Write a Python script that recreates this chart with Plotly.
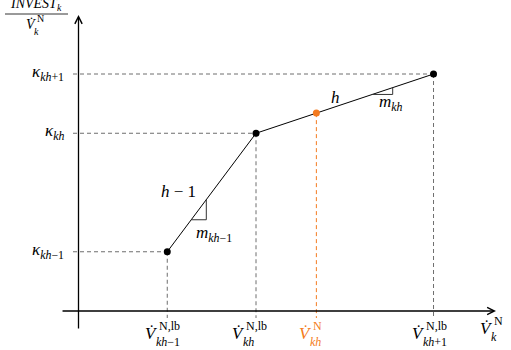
import plotly.graph_objects as go

# ---- data ----
V_lb = [1.0, 2.0, 4.0]            # V_{kh-1}^{N,lb}, V_{kh}^{N,lb}, V_{kh+1}^{N,lb}
kappa = [1.0, 3.0, 4.0]           # kappa_{kh-1}, kappa_{kh}, kappa_{kh+1}
V_N = 2.68                        # operating point V_kh^N
kappa_N = 3.34
kappa_labels = ["<i>κ</i><sub><i>kh</i>−1</sub>", "<i>κ</i><sub><i>kh</i></sub>", "<i>κ</i><sub><i>kh</i>+1</sub>"]
V_sub_labels = ["<i>kh</i>−1", "<i>kh</i>", "<i>kh</i>+1"]
V_sup_label = "N,lb"

FONT = "'Liberation Serif', 'DejaVu Serif', serif"
GRAY = "#6e6e6e"
ORANGE = "#f47b20"

fig = go.Figure()

# dashed guide lines
hx, hy, vx, vy = [], [], [], []
for v, k in zip(V_lb, kappa):
    hx += [-0.062, v, None]
    hy += [k, k, None]
    vx += [v, v, None]
    vy += [k, -0.118, None]
fig.add_trace(go.Scatter(x=hx + vx, y=hy + vy, mode="lines",
                         line=dict(color=GRAY, width=1, dash="4px,3px"), hoverinfo="skip"))
fig.add_trace(go.Scatter(x=[V_N, V_N], y=[kappa_N, -0.118], mode="lines",
                         line=dict(color=ORANGE, width=1, dash="4px,3px"), hoverinfo="skip"))

# piecewise linear cost curve
fig.add_trace(go.Scatter(x=V_lb, y=kappa, mode="lines+markers",
                         line=dict(color="black", width=1),
                         marker=dict(color="black", size=7), hoverinfo="skip"))
fig.add_trace(go.Scatter(x=[V_N], y=[kappa_N], mode="markers",
                         marker=dict(color=ORANGE, size=7), hoverinfo="skip"))

# slope triangles
def seg_y(i, x):
    return kappa[i] + (x - V_lb[i]) * (kappa[i + 1] - kappa[i]) / (V_lb[i + 1] - V_lb[i])

for i, (x0, x1) in enumerate([(1.27, 1.44), (3.31, 3.54)]):
    fig.add_trace(go.Scatter(x=[x0, x1, x1], y=[seg_y(i, x0), seg_y(i, x0), seg_y(i, x1)],
                             mode="lines", line=dict(color="#333333", width=1), hoverinfo="skip"))

ann = []

def A(x, y, text, size, xref="paper", yref="paper", xanchor="center", yanchor="middle",
      xshift=0, yshift=0, color="black"):
    ann.append(dict(x=x, y=y, xref=xref, yref=yref, text=text, showarrow=False,
                    xanchor=xanchor, yanchor=yanchor, xshift=xshift, yshift=yshift,
                    borderpad=0, font=dict(family=FONT, size=size, color=color)))

def py(p):  # pixel row -> paper y
    return 1 - p / 350.0

# axes with arrows
for (x, y, ax, ay) in [(4.704, 0, -0.197, 0), (0, 4.996, 0, -0.32)]:
    ann.append(dict(x=x, y=y, ax=ax, ay=ay, xref="x", yref="y", axref="x", ayref="y",
                    text="", showarrow=True, arrowhead=5, arrowsize=1.1, arrowwidth=1.3,
                    arrowcolor="black", standoff=0, startstandoff=0,
                    font=dict(family=FONT, size=12)))

# y tick labels
for k, lab in zip(kappa, kappa_labels):
    ann.append(dict(x=66 / 511, y=k, xref="paper", yref="y", text=lab, showarrow=False,
                    xanchor="right", yanchor="middle", yshift=1,
                    font=dict(family=FONT, size=17, color="black")))

# V-dot with stacked super/subscripts
def vlabel(x, sup, sub, color, vshift, base_py, xref="x", bs=17, ss=12):
    A(x, py(base_py), "<i>V̇</i>", bs, xref=xref, xanchor="right", xshift=vshift, color=color)
    A(x, py(base_py - bs * 0.42), sup, ss, xref=xref, xanchor="left", xshift=vshift - 1, color=color)
    A(x, py(base_py + bs * 0.53), sub, ss, xref=xref, xanchor="left", xshift=vshift - 4, color=color)

for v, sub, sh in zip(V_lb, V_sub_labels, [-8, -10, -8]):
    vlabel(v, V_sup_label, sub, "black", sh, 333)
vlabel(V_N, "N", "<i>kh</i>", ORANGE, -3, 333)
# x-axis title
vlabel(494 / 511, "N", "<i>k</i>", "black", 0, 328, xref="paper")

# y-axis title (fraction)
A(36 / 511, py(5), "<i>INVEST</i><sub><i>k</i></sub>", 14)
fig.add_shape(type="line", x0=5 / 511, x1=68 / 511, y0=py(14), y1=py(14), xref="paper", yref="paper",
              line=dict(color="black", width=0.8))
vlabel(37 / 511, "N", "<i>k</i>", "black", 0, 24, xref="paper", bs=14, ss=10)

# segment labels
A(178 / 511, py(191), "<i>h</i> − 1", 17)
A(335 / 511, py(97), "<i>h</i>", 17)
A(214 / 511, py(234), "<i>m</i><sub><i>kh</i>−1</sub>", 17)
A(391 / 511, py(103), "<i>m</i><sub><i>kh</i></sub>", 17)

fig.update_layout(
    width=511, height=350, margin=dict(l=0, r=0, t=0, b=0),
    paper_bgcolor="white", plot_bgcolor="white", showlegend=False,
    font=dict(family=FONT, size=12),
    xaxis=dict(range=[-0.8845, 4.873], visible=False, fixedrange=True),
    yaxis=dict(range=[-0.658, 5.249], visible=False, fixedrange=True),
    annotations=ann,
)
fig.write_html("out.html")
